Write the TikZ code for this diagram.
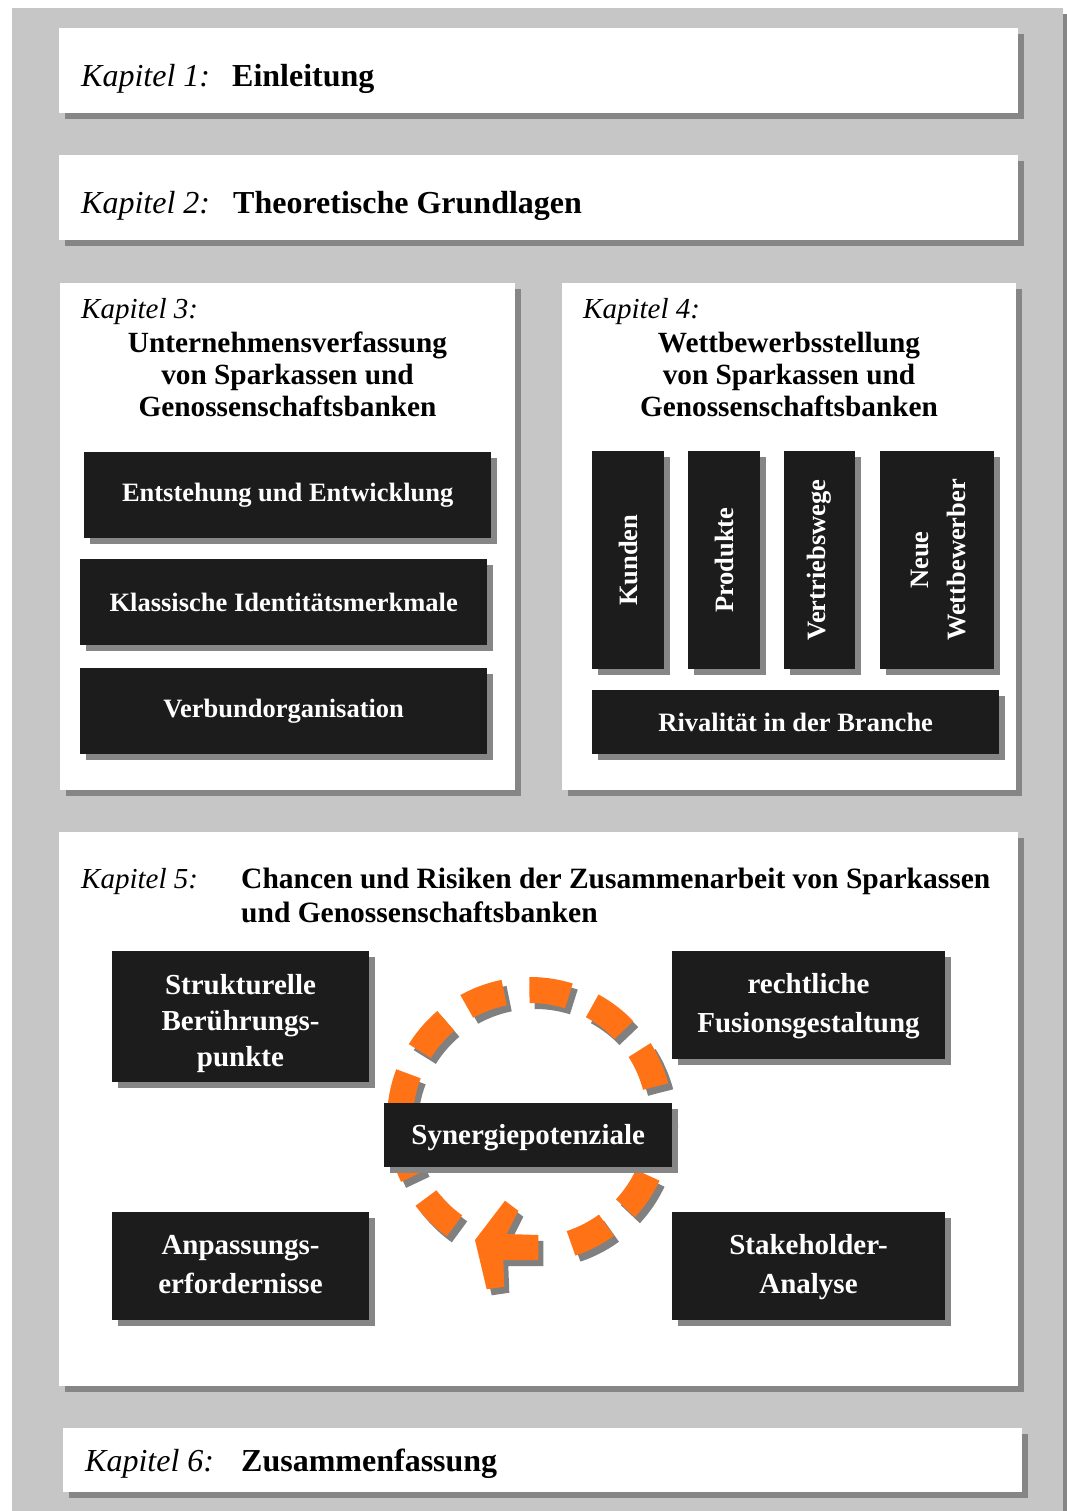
\documentclass[tikz,border=0pt]{standalone}
\usepackage{fontspec}
\setmainfont{Liberation Serif}
\usetikzlibrary{shadows,calc}

\definecolor{pagegray}{RGB}{198,198,198}
\definecolor{shadegray}{RGB}{134,134,134}
\definecolor{boxblack}{RGB}{28,28,28}
\definecolor{ringorange}{RGB}{255,115,22}
\definecolor{ringshade}{RGB}{128,128,128}

\tikzset{
  shade6/.style={drop shadow={shadow xshift=6pt, shadow yshift=-6pt, fill=shadegray, opacity=1}},
  panel/.style={shade6, fill=white, inner sep=0pt, anchor=north west},
  blackbox/.style={shade6, fill=boxblack, text=white, inner sep=0pt, anchor=north west,
    font=\fontsize{26.5}{32}\selectfont\bfseries},
  bigbox/.style={blackbox, font=\fontsize{29}{36}\selectfont\bfseries},
  whitetxt/.style={inner sep=0pt, text=white, align=center},
  txt/.style={inner sep=0pt},
  chapit/.style={txt, anchor=base west, font=\fontsize{32}{38}\selectfont\itshape},
  chapbf/.style={txt, anchor=base west, font=\fontsize{32}{38}\selectfont\bfseries},
  subit/.style={txt, anchor=base west, font=\fontsize{29}{32}\selectfont\itshape},
  subbf/.style={txt, anchor=base, align=center, font=\fontsize{29.3}{32}\selectfont\bfseries},
  ring/.style={line width=26pt, line cap=butt},
}

\begin{document}
\begin{tikzpicture}[x=1pt, y=-1pt]
\useasboundingbox (0,0) rectangle (1067,1511);
\fill[white] (0,0) rectangle (1067,1511);
% gray page with its edge shadow
\fill[shadegray] (1063,14) rectangle (1067,1511);
\fill[pagegray] (12,8) rectangle (1063,1511);

% chapter panels
\node[panel, minimum width=959, minimum height=85] (p1) at (59,28) {};
\node[panel, minimum width=959, minimum height=85] (p2) at (59,155) {};
\node[panel, minimum width=455, minimum height=507] (p3) at (60,283) {};
\node[panel, minimum width=454, minimum height=507] (p4) at (562,283) {};
\node[panel, minimum width=959, minimum height=554] (p5) at (59,832) {};
\node[panel, minimum width=959, minimum height=64] (p6) at (63,1428) {};

% chapter 1 and 2
\node[chapit] (k1) at (81,87) {Kapitel 1:};
\node[chapbf] (k1t) at (232,87) {Einleitung};
\node[chapit] (k2) at (81,214) {Kapitel 2:};
\node[chapbf] (k2t) at (233,214) {Theoretische Grundlagen};

% chapter 3 (multi-line texts are placed by the baseline of their last line)
\node[subit] (k3) at (81,318) {Kapitel 3:};
\node[subbf] (k3t) at (287.5,416) {Unternehmensverfassung\\von Sparkassen und\\Genossenschaftsbanken};
\node[blackbox, minimum width=407, minimum height=86] (entst) at (84,452) {Entstehung und Entwicklung};
\node[blackbox, minimum width=407, minimum height=86] (klass) at (80,559) {Klassische Identitätsmerkmale};
\node[blackbox, minimum width=407, minimum height=86] (verb) at (80,668) {Verbundorganisation};

% chapter 4
\node[subit] (k4) at (583,318) {Kapitel 4:};
\node[subbf] (k4t) at (789,416) {Wettbewerbsstellung\\von Sparkassen und\\Genossenschaftsbanken};
\node[blackbox, minimum width=72, minimum height=218] (kunden) at (592,451) {};
\node[blackbox, minimum width=72, minimum height=218] (produkte) at (688,451) {};
\node[blackbox, minimum width=71, minimum height=218] (vertrieb) at (784,451) {};
\node[blackbox, minimum width=114, minimum height=218] (neue) at (880,451) {};
\node[blackbox, minimum width=407, minimum height=64] (rival) at (592,690) {Rivalität in der Branche};
\begin{scope}[every node/.style={whitetxt, rotate=90, font=\fontsize{26.5}{37}\selectfont\bfseries}]
  \node (kundenlab) at (kunden.center) {Kunden};
  \node (produktelab) at (produkte.center) {Produkte};
  \node (vertrieblab) at (vertrieb.center) {Vertriebswege};
  \node (neuelab) at (939,560) {Neue\\Wettbewerber};
\end{scope}

% chapter 5
\node[subit] (k5) at (81,888) {Kapitel 5:};
\node[txt, anchor=base west, align=left, font=\fontsize{29.5}{34}\selectfont\bfseries] (k5t) at (241,922)
  {Chancen und Risiken der Zusammenarbeit von Sparkassen\\und Genossenschaftsbanken};
\node[bigbox, minimum width=257, minimum height=131] (strukt) at (112,951) {};
\node[bigbox, minimum width=273, minimum height=108] (recht) at (672,951) {};
\node[bigbox, minimum width=257, minimum height=108] (anpass) at (112,1212) {};
\node[bigbox, minimum width=273, minimum height=108] (stake) at (672,1212) {};
\node[whitetxt, anchor=base, font=\fontsize{29}{36}\selectfont\bfseries] (struktlab) at (240.5,1066) {Strukturelle\\Berührungs-\\punkte};
\node[whitetxt, anchor=base, font=\fontsize{29}{39}\selectfont\bfseries] (rechtlab) at (808.5,1032) {rechtliche\\Fusionsgestaltung};
\node[whitetxt, anchor=base, font=\fontsize{29}{39}\selectfont\bfseries] (anpasslab) at (240.5,1293) {Anpassungs-\\erfordernisse};
\node[whitetxt, anchor=base, font=\fontsize{29}{39}\selectfont\bfseries] (stakelab) at (808.5,1293) {Stakeholder-\\Analyse};

% dashed circular arrow with its shadow
\foreach \dx/\dy/\col in {5/6/ringshade, 0/0/ringorange}{
  \begin{scope}[shift={(\dx,\dy)}]
    \draw[ring, draw=\col, dash pattern=on 40pt off 25.46pt]
      ($(530,1120)+(125.5:130)$) arc[start angle=125.5, end angle=431.6, radius=130];
    \fill[\col] (475,1240) -- (505,1200.7) -- (518.3,1210.7) -- (506.7,1234)
      -- (538.3,1235) -- (538.3,1260) -- (503.3,1260) -- (504.3,1286.7)
      -- (486.7,1289.3) -- cycle;
  \end{scope}
}

\node[bigbox, minimum width=288, minimum height=64] (syn) at (384,1103) {};
\node[whitetxt, anchor=base, font=\fontsize{29}{36}\selectfont\bfseries] (synlab) at (syn.center |- 0,1144) {Synergiepotenziale};

% chapter 6
\node[chapit] (k6) at (85,1471) {Kapitel 6:};
\node[chapbf] (k6t) at (241,1471) {Zusammenfassung};
\end{tikzpicture}
\end{document}
